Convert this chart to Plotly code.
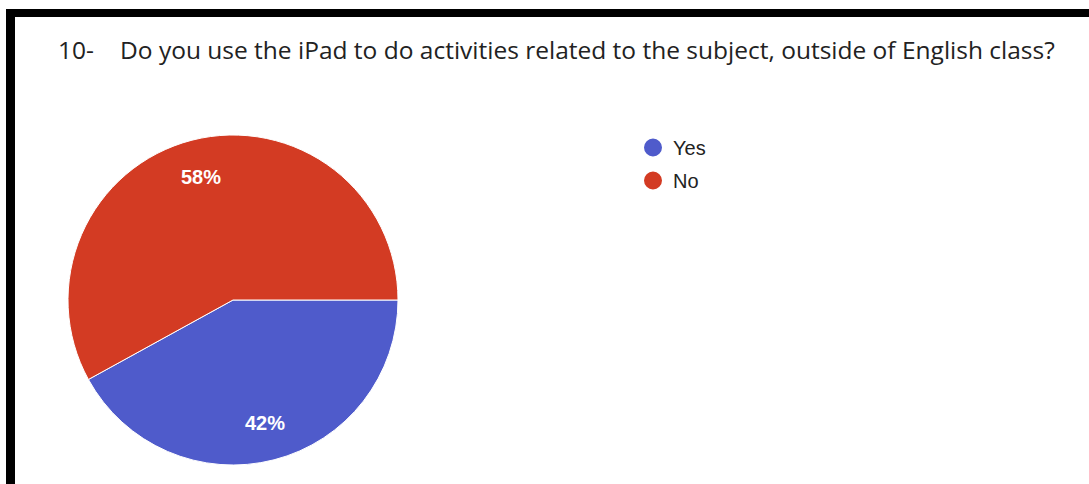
import math
import plotly.graph_objects as go

categories = ["Yes", "No"]
values = [42, 58]
colors = ["#4F5BCB", "#D33B23"]
title_num = "10-"
title_text = "Do you use the iPad to do activities related to the subject, outside of English class?"

W, H = 1089, 484

def px(x):
    return x / W

def py(y):
    return 1 - y / H

# pie geometry (pixels)
cx, cy, R = 233, 300, 165
rotation = 90  # first slice starts at 3 o'clock, clockwise
label_frac = 0.77

fig = go.Figure()

fig.add_trace(go.Pie(
    labels=categories,
    values=values,
    sort=False,
    direction="clockwise",
    rotation=rotation,
    marker=dict(colors=colors, line=dict(color="white", width=1)),
    textinfo="none",
    showlegend=False,
    domain=dict(x=[px(cx - R), px(cx + R)], y=[py(cy + R), py(cy - R)]),
    hoverinfo="label+percent",
))

for i, (c, col) in enumerate(zip(categories, colors)):
    fig.add_trace(go.Scatter(
        x=[None], y=[None], mode="markers", name=c,
        marker=dict(symbol="circle", size=16, color=col, line=dict(color=col, width=2)),
        legendgroup=c, showlegend=True,
    ))

# percentage labels placed along each slice's bisector
total = sum(values)
annotations = []
start = 0.0
for v in values:
    frac = v / total
    mid = start + frac / 2
    ang = math.radians(rotation + mid * 360)
    lx = cx + label_frac * R * math.sin(ang)
    ly = cy - label_frac * R * math.cos(ang)
    annotations.append(dict(
        text=f"{round(frac * 100)}%", x=px(lx), y=py(ly), xref="paper", yref="paper",
        xanchor="center", yanchor="middle", showarrow=False,
        font=dict(family="Liberation Sans", size=20, color="white", weight="bold"),
    ))
    start += frac

annotations += [
    dict(text=title_num, x=px(56), y=py(50), xref="paper", yref="paper",
         xanchor="left", yanchor="middle", showarrow=False,
         font=dict(family="Open Sans", size=24.5, color="#222222")),
    dict(text=title_text, x=px(118), y=py(50), xref="paper", yref="paper",
         xanchor="left", yanchor="middle", showarrow=False,
         font=dict(family="Open Sans", size=24.5, color="#222222")),
]

fig.update_layout(
    width=W, height=H,
    margin=dict(l=0, r=0, t=0, b=0),
    paper_bgcolor="white", plot_bgcolor="white",
    xaxis=dict(visible=False), yaxis=dict(visible=False),
    legend=dict(
        x=px(633), y=py(128), xanchor="left", yanchor="top",
        font=dict(family="Liberation Sans", size=20, color="#222222"),
        tracegroupgap=4, bgcolor="rgba(0,0,0,0)",
    ),
    shapes=[
        dict(type="rect", xref="paper", yref="paper",
             x0=px(6), x1=1, y0=py(17), y1=py(9),
             fillcolor="black", line=dict(width=0)),
        dict(type="rect", xref="paper", yref="paper",
             x0=px(6), x1=px(15), y0=0, y1=py(9),
             fillcolor="black", line=dict(width=0)),
    ],
    annotations=annotations,
)

fig.write_html("out.html")
